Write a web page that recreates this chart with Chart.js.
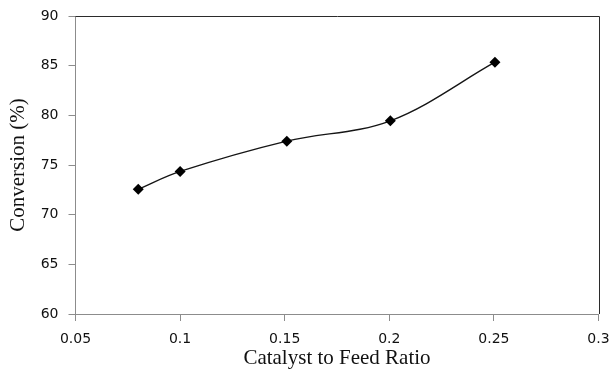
<!DOCTYPE html>
<html>
<head>
<meta charset="utf-8">
<script src="https://cdn.jsdelivr.net/npm/chart.js@4"></script>
<style>
  html, body { margin: 0; padding: 0; background: #fff; }
  #wrap { width: 609px; height: 369px; }
</style>
</head>
<body>
<div id="wrap"><canvas id="grafico" width="609" height="369"></canvas></div>
<script>
// data
const ratio = [0.08, 0.1, 0.151, 0.2005, 0.2505];
const conversion = [72.55, 74.35, 77.4, 79.45, 85.35];
const xTicks = [0.05, 0.1, 0.15, 0.2, 0.25, 0.3];
const yTicks = [60, 65, 70, 75, 80, 85, 90];

// top and right frame lines of the plot area
const frame = {
  id: 'frame',
  afterDraw(chart) {
    const a = chart.chartArea;
    const c = chart.ctx;
    c.save();
    c.strokeStyle = '#2b2b2b';
    c.lineWidth = 1;
    c.beginPath();
    c.moveTo(a.left, Math.round(a.top) + 0.5);
    c.lineTo(Math.round(a.right) + 0.5, Math.round(a.top) + 0.5);
    c.lineTo(Math.round(a.right) + 0.5, a.bottom);
    c.stroke();
    c.restore();
  }
};

const ctx = document.getElementById("grafico").getContext('2d');
new Chart(ctx, {
  type: 'scatter',
  data: {
    datasets: [{
      data: ratio.map((r, i) => ({x: r, y: conversion[i]})),
      showLine: true,
      borderColor: '#151515',
      borderWidth: 1.4,
      tension: 0.35,
      pointStyle: 'rectRot',
      pointRadius: 5.5,
      pointBackgroundColor: '#000',
      pointBorderColor: '#000',
      pointBorderWidth: 0
    }]
  },
  options: {
    responsive: false,
    animation: false,
    layout: { padding: { top: 16, right: 10.5, left: 0, bottom: 0 } },
    plugins: { legend: { display: false }, tooltip: { enabled: false } },
    scales: {
      x: {
        type: 'linear',
        min: 0.05, max: 0.3,
        afterBuildTicks: s => { s.ticks = xTicks.map(v => ({value: v})); },
        afterFit: s => { s.height = 55; s.paddingLeft = 0; s.paddingRight = 0; },
        grid: { display: true, drawOnChartArea: false, drawTicks: true, tickLength: 7, tickColor: '#8c8c8c' },
        border: { display: true, color: '#8c8c8c', width: 1 },
        ticks: {
          color: '#111', padding: 10, maxRotation: 0,
          font: { family: 'DejaVu Sans', size: 14 },
          callback: v => String(v)
        },
        title: {
          display: true, text: 'Catalyst to Feed Ratio', color: '#111',
          font: { family: 'Liberation Serif', size: 21 },
          padding: { top: 0, bottom: -2 }
        }
      },
      y: {
        min: 60, max: 90,
        afterBuildTicks: s => { s.ticks = yTicks.map(v => ({value: v})); },
        afterFit: s => { s.width = 75.5; s.paddingTop = 0; s.paddingBottom = 0; },
        grid: { display: true, drawOnChartArea: false, drawTicks: true, tickLength: 7, tickColor: '#8c8c8c' },
        border: { display: true, color: '#8c8c8c', width: 1 },
        ticks: {
          color: '#111', padding: 10,
          font: { family: 'DejaVu Sans', size: 14 }
        },
        title: {
          display: true, text: 'Conversion (%)', color: '#111',
          font: { family: 'Liberation Serif', size: 21 },
          padding: { top: 6, bottom: 0 }
        }
      }
    }
  },
  plugins: [frame]
});
</script>
</body>
</html>
